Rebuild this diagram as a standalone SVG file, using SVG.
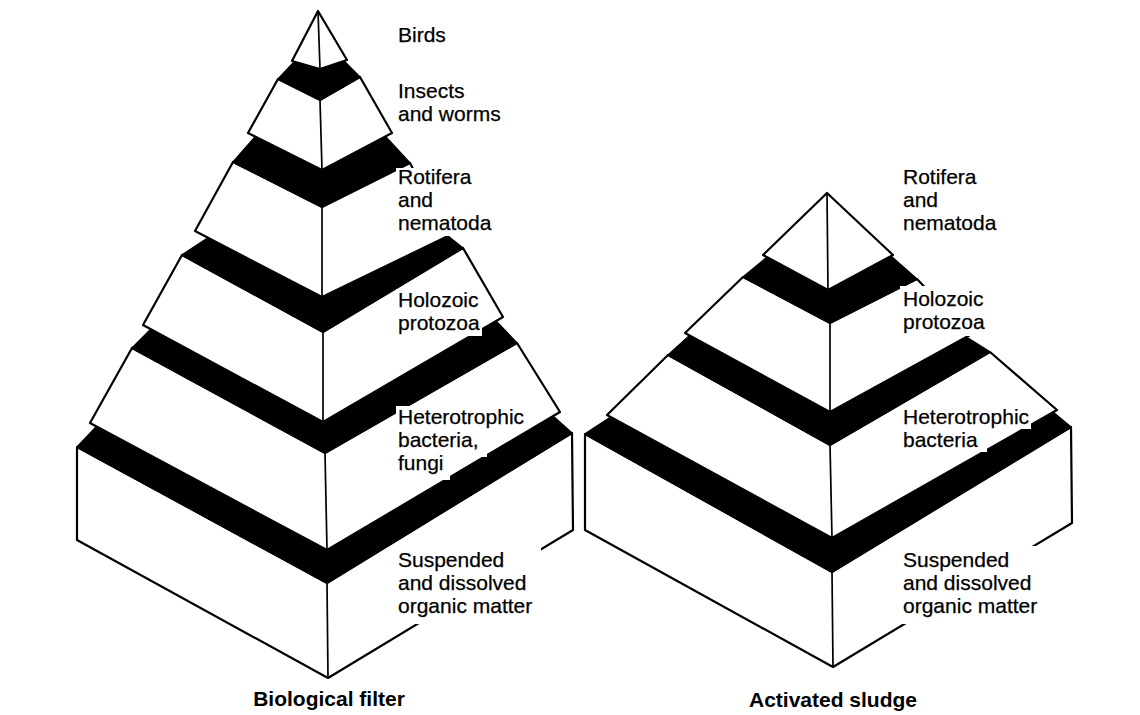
<svg xmlns="http://www.w3.org/2000/svg" width="1140" height="715" viewBox="0 0 1140 715">
<defs>
<style>
.face{fill:#fff;stroke:#000;stroke-width:2.2;stroke-linejoin:round}
.band{fill:#000;stroke:#000;stroke-width:1.5;stroke-linejoin:round}
.edge{stroke:#000;stroke-width:1.7;fill:none}
.ko{fill:#fff;stroke:none}
.lbl{font-family:"Liberation Sans",Arial,Helvetica,sans-serif;font-size:21px;fill:#000;stroke:#000;stroke-width:0.25}
.ttl{font-family:"Liberation Sans",Arial,Helvetica,sans-serif;font-size:21px;font-weight:bold;fill:#000;text-anchor:middle}
</style>
</defs>
<rect width="1140" height="715" fill="#fff"/>

<!-- Left pyramid: Biological filter -->
<g id="bio-filter">
  <g id="bf-base">
    <polygon class="face" points="77,447 327,583 572,433 573,530 328,678 77,540"/>
    <line class="edge" x1="327" y1="583" x2="328" y2="678"/>
    <polygon class="band" points="77,447 327,583 572,433 553,416 327,550 96,427"/>
  </g>
  <g id="bf-heterotrophic">
    <polygon class="face" points="132,348 325,453 517,343 560,412 327,550 90,423"/>
    <line class="edge" x1="325" y1="453" x2="327" y2="550"/>
    <polygon class="band" points="132,348 325,453 517,343 496,321 323,422 150,330"/>
  </g>
  <g id="bf-holozoic">
    <polygon class="face" points="182,255 323,332 463,248 503,317 323,422 143,325"/>
    <line class="edge" x1="323" y1="332" x2="323" y2="422"/>
    <polygon class="band" points="182,255 323,332 463,248 448,236 322,297 208,238"/>
  </g>
  <g id="bf-rotifera">
    <polygon class="face" points="233,162 322,207 410,163 448,236 322,297 195,231"/>
    <line class="edge" x1="322" y1="207" x2="322" y2="297"/>
    <polygon class="band" points="233,162 322,207 410,163 386,137 322,170 255,137"/>
  </g>
  <g id="bf-insects">
    <polygon class="face" points="278,79 320,100 360,77 392,133 322,170 248,133"/>
    <line class="edge" x1="320" y1="100" x2="322" y2="170"/>
    <polygon class="band" points="278,79 320,100 360,77 345,62 320,69 294,62"/>
  </g>
  <g id="bf-birds">
    <polygon class="face" points="318,11 347,60 320,69 292,61"/>
    <line class="edge" x1="318" y1="11" x2="320" y2="69"/>
  </g>
</g>

<!-- Right pyramid: Activated sludge -->
<g id="act-sludge">
  <g id="as-base">
    <polygon class="face" points="585,434 832,572 1071,427 1072,523 833,667 585,530"/>
    <line class="edge" x1="832" y1="572" x2="833" y2="667"/>
    <polygon class="band" points="585,434 832,572 1071,427 1053,412 832,538 611,417"/>
  </g>
  <g id="as-heterotrophic">
    <polygon class="face" points="668,355 830,445 990,352 1057,410 832,538 607,415"/>
    <line class="edge" x1="830" y1="445" x2="832" y2="538"/>
    <polygon class="band" points="668,355 830,445 990,352 966,337 830,412 689,336"/>
  </g>
  <g id="as-holozoic">
    <polygon class="face" points="743,277 830,323 917,279 970,335 830,412 685,333"/>
    <line class="edge" x1="830" y1="323" x2="830" y2="412"/>
    <polygon class="band" points="743,277 830,323 917,279 892,257 828,290 766,258"/>
  </g>
  <g id="as-rotifera">
    <polygon class="face" points="827,193 893,255 828,290 763,255"/>
    <line class="edge" x1="827" y1="193" x2="828" y2="290"/>
  </g>
</g>

<!-- Labels with knockouts -->
<g id="labels-left">
  <rect class="ko" x="396" y="168" width="72" height="68"/>
  <rect class="ko" x="396" y="289" width="84" height="23"/>
  <rect class="ko" x="396" y="312" width="86" height="24"/>
  <rect class="ko" x="396" y="406" width="128" height="23"/>
  <rect class="ko" x="396" y="429" width="91" height="28"/>
  <rect class="ko" x="396" y="455" width="54" height="25"/>
  <rect class="ko" x="396" y="546" width="145" height="78"/>
  <text class="lbl" x="398" y="42">Birds</text>
  <text class="lbl" x="398" y="98">Insects</text>
  <text class="lbl" x="398" y="121">and worms</text>
  <text class="lbl" x="398" y="184">Rotifera</text>
  <text class="lbl" x="398" y="207">and</text>
  <text class="lbl" x="398" y="230">nematoda</text>
  <text class="lbl" x="398" y="307">Holozoic</text>
  <text class="lbl" x="398" y="330">protozoa</text>
  <text class="lbl" x="398" y="424">Heterotrophic</text>
  <text class="lbl" x="398" y="447">bacteria,</text>
  <text class="lbl" x="398" y="470">fungi</text>
  <text class="lbl" x="398" y="567">Suspended</text>
  <text class="lbl" x="398" y="590">and dissolved</text>
  <text class="lbl" x="398" y="613">organic matter</text>
  <text class="ttl" x="329" y="706">Biological filter</text>
</g>
<g id="labels-right">
  <rect class="ko" x="900" y="286" width="88" height="50"/>
  <rect class="ko" x="901" y="406" width="130" height="23"/>
  <rect class="ko" x="901" y="429" width="86" height="23"/>
  <rect class="ko" x="900" y="546" width="145" height="78"/>
  <text class="lbl" x="903" y="184">Rotifera</text>
  <text class="lbl" x="903" y="207">and</text>
  <text class="lbl" x="903" y="230">nematoda</text>
  <text class="lbl" x="903" y="306">Holozoic</text>
  <text class="lbl" x="903" y="329">protozoa</text>
  <text class="lbl" x="903" y="424">Heterotrophic</text>
  <text class="lbl" x="903" y="447">bacteria</text>
  <text class="lbl" x="903" y="567">Suspended</text>
  <text class="lbl" x="903" y="590">and dissolved</text>
  <text class="lbl" x="903" y="613">organic matter</text>
  <text class="ttl" x="833" y="707">Activated sludge</text>
</g>
</svg>
